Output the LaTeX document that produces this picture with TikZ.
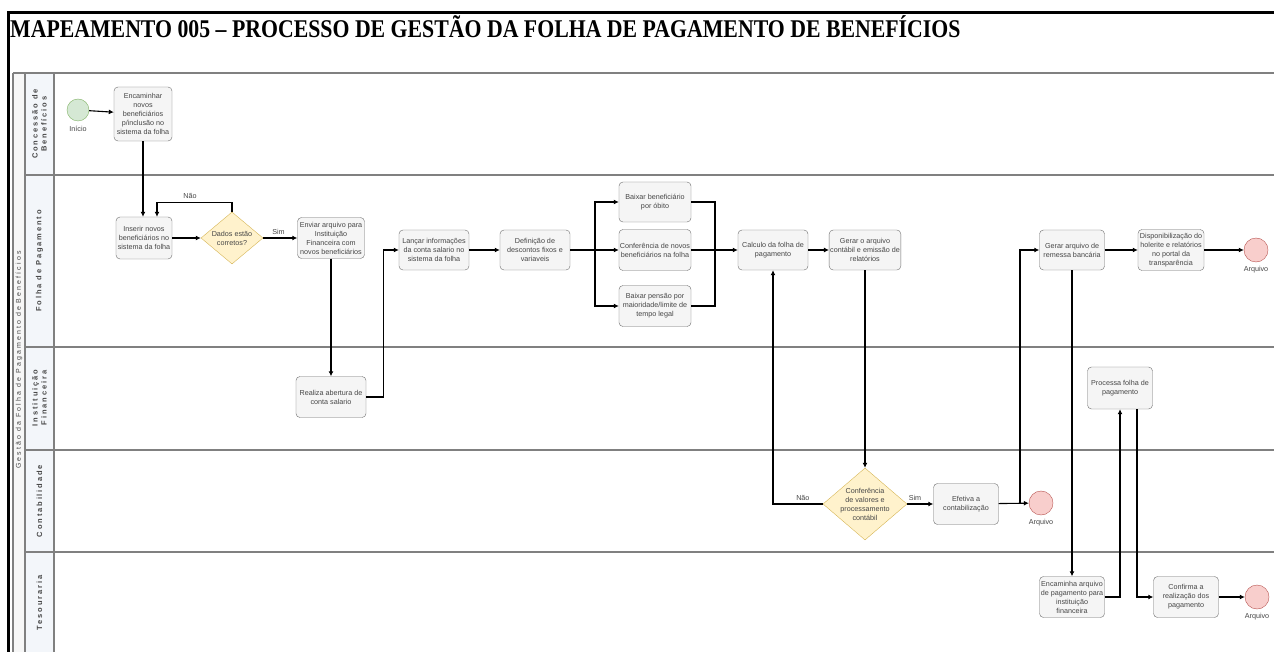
\documentclass[tikz,border=0pt]{standalone}
\usepackage{fontspec}
\setmainfont{Liberation Serif}
\setsansfont{Liberation Sans}
\newfontfamily\raiafont[LetterSpace=25]{Liberation Sans}
\newfontfamily\poolfont[LetterSpace=30]{Liberation Sans}
\usepackage{tikz}
\usetikzlibrary{arrows.meta,shapes.geometric,positioning,calc}
\definecolor{linha}{RGB}{128,128,128}
\definecolor{borda}{RGB}{110,110,110}
\definecolor{caixa}{RGB}{245,245,245}
\definecolor{raia}{RGB}{243,246,250}
\definecolor{verdefundo}{RGB}{213,232,212}
\definecolor{verdeborda}{RGB}{130,179,102}
\definecolor{rosafundo}{RGB}{248,206,204}
\definecolor{rosaborda}{RGB}{184,84,80}
\definecolor{amarelofundo}{RGB}{255,242,204}
\definecolor{amareloborda}{RGB}{214,182,86}
\definecolor{texto}{RGB}{70,70,70}
\tikzset{
  tarefa/.style={rectangle, rounded corners=4pt, draw=borda, fill=caixa, text=texto,
    font=\sffamily\fontsize{7.2}{9}\selectfont, align=center, inner sep=1pt,
    minimum width=70pt, minimum height=41pt},
  decisao/.style={diamond, draw=amareloborda, fill=amarelofundo, inner sep=0pt},
  inicio/.style={circle, draw=verdeborda, fill=verdefundo, minimum size=22pt, inner sep=0pt},
  fim/.style={circle, draw=rosaborda, fill=rosafundo, minimum size=24pt, inner sep=0pt},
  rotulo/.style={font=\sffamily\fontsize{7.2}{9}\selectfont, text=texto, align=center},
  raiatxt/.style={rotate=90, font=\raiafont\bfseries\fontsize{7.5}{9}\selectfont, text=texto, align=center},
  seta/.style={line width=1.1pt, -{Latex[length=5pt,width=5pt]}},
  fio/.style={line width=1.1pt},
  divisa/.style={draw=linha, line width=1.3pt}
}
\begin{document}
\begin{tikzpicture}[x=1pt,y=-1pt]
  \useasboundingbox (0,0) rectangle (1274,652);
  \fill[white] (0,0) rectangle (1274,652);
  \fill[raia] (25,73) rectangle (54,652);
  \fill[gray!6] (13,73) rectangle (25,652);
  \draw[divisa] (13,73) -- (1274,73);
  \draw[divisa] (13,73) -- (13,652);
  \draw[divisa] (25,73) -- (25,652);
  \draw[divisa] (54,73) -- (54,652);
  \foreach \y in {175,347,450,552} {
    \draw[divisa] (25,\y) -- (1274,\y);
  }
  \draw[line width=3pt] (1274,13) -- (8,13) -- (8,652);

  \node[anchor=base west, inner sep=0pt] (titulo) at (10,38)
    {\scalebox{0.855}[1]{\fontsize{25.5}{25}\selectfont\bfseries MAPEAMENTO 005 – PROCESSO DE GESTÃO DA FOLHA DE PAGAMENTO DE BENEFÍCIOS}};

  \node[rotate=90, font=\poolfont\fontsize{7}{8}\selectfont, text=texto] (pool) at (19,360) {Gestão da Folha de Pagamento de Benefícios};
  \node[raiatxt] (lnConc) at (39.5,124) {Concessão de\\Benefícios};
  \node[raiatxt] (lnFolha) at (39.5,261) {Folha de Pagamento};
  \node[raiatxt] (lnInst) at (39.5,398) {Instituição\\Financeira};
  \node[raiatxt] (lnCont) at (39.5,501) {Contabilidade};
  \node[raiatxt] (lnTes) at (39.5,603) {Tesouraria};

  \node[inicio] (inicio) at (78,110) {};
  \node[rotulo, below=1pt of inicio] (inicioTxt) {Início};
  \node[tarefa, minimum width=58pt, minimum height=54pt] (encam) at (143,114)
    {Encaminhar\\novos\\beneficiários\\p/inclusão no\\sistema da folha};
  \node[tarefa, minimum width=56pt, minimum height=42pt] (inserir) at (144,238)
    {Inserir novos\\beneficiários no\\sistema da folha};
  \node[decisao, minimum width=62pt, minimum height=52pt,
    label={[rotulo]center:Dados estão\\corretos?}] (dados) at (232,238) {};
  \node[tarefa, minimum width=67pt] (enviar) at (331,238)
    {Enviar arquivo para\\Instituição\\Financeira com\\novos beneficiários};
  \node[tarefa] (realiza) at (331,397) {Realiza abertura de\\conta salario};
  \node[tarefa, minimum height=40pt] (lancar) at (434,250)
    {Lançar informações\\da conta salario no\\sistema da folha};
  \node[tarefa, minimum height=40pt] (definicao) at (535,250)
    {Definição de\\descontos fixos e\\variaveis};
  \node[tarefa, minimum width=72pt, minimum height=40pt] (obito) at (655,202)
    {Baixar beneficiário\\por óbito};
  \node[tarefa, minimum width=72pt] (confnovos) at (655,250)
    {Conferência de novos\\beneficiários na folha};
  \node[tarefa, minimum width=72pt] (pensao) at (655,306)
    {Baixar pensão por\\maioridade/limite de\\tempo legal};
  \node[tarefa, minimum height=40pt] (calculo) at (773,250)
    {Calculo da folha de\\pagamento};
  \node[tarefa, minimum height=40pt] (gerar) at (865,250)
    {Gerar o arquivo\\contábil e emissão de\\relatórios};
  \node[decisao, minimum width=84pt, minimum height=72pt,
    label={[rotulo]center:Conferência\\de valores e\\processamento\\contábil}] (conf) at (865,504) {};
  \node[tarefa, minimum width=65pt] (efetiva) at (966,504) {Efetiva a\\contabilização};
  \node[fim] (arq1) at (1041,503) {};
  \node[rotulo, below=1pt of arq1] (arq1Txt) {Arquivo};
  \node[tarefa, minimum width=65pt, minimum height=40pt] (remessa) at (1072,250)
    {Gerar arquivo de\\remessa bancária};
  \node[tarefa, minimum width=66pt] (disp) at (1171,250)
    {Disponibilização do\\holerite e relatórios\\no portal da\\transparência};
  \node[fim] (arq2) at (1256,250) {};
  \node[rotulo, below=1pt of arq2] (arq2Txt) {Arquivo};
  \node[tarefa, minimum width=65pt, minimum height=42pt] (processa) at (1120,388)
    {Processa folha de\\pagamento};
  \node[tarefa, minimum width=65pt] (encaminha) at (1072,597)
    {Encaminha arquivo\\de pagamento para\\instituição\\financeira};
  \node[tarefa, minimum width=65pt] (confirma) at (1186,597)
    {Confirma a\\realização dos\\pagamento};
  \node[fim] (arq3) at (1257,597) {};
  \node[rotulo, below=1pt of arq3] (arq3Txt) {Arquivo};

  \coordinate (divisao) at (595,250);
  \coordinate (juncao) at (715,250);
  \coordinate (ramo) at (1020,503);

  \draw[seta] (inicio) -- (encam);
  \draw[seta] (encam.south) -- (encam.south |- inserir.north);
  \draw[seta] (dados.north) -- ++(0,-9) -| node[rotulo, pos=0.28, above] {Não} ([xshift=13pt]inserir.north);
  \draw[seta] (inserir) -- (dados);
  \draw[seta] (dados) -- node[rotulo, above, pos=0.45] {Sim} (enviar);
  \draw[seta] (enviar) -- (realiza);
  \draw[seta] (realiza.east) -- ++(17,0) |- (lancar.west);
  \draw[seta] (lancar) -- (definicao);
  \draw[fio] (definicao) -- (divisao);
  \draw[seta] (divisao) |- (obito.west);
  \draw[seta] (divisao) |- (pensao.west);
  \draw[seta] (divisao) -- (confnovos);
  \draw[fio] (obito.east) -| (juncao);
  \draw[fio] (pensao.east) -| (juncao);
  \draw[seta] (confnovos) -- (calculo);
  \draw[seta] (calculo) -- (gerar);
  \draw[seta] (gerar) -- (conf.north);
  \draw[seta] (conf.west) -| node[rotulo, pos=0.2, above] {Não} (calculo.south);
  \draw[seta] (conf.east) -- node[rotulo, pos=0.3, above] {Sim} (efetiva);
  \draw[seta] (efetiva) -- (arq1);
  \draw[seta] (ramo) |- (remessa.west);
  \draw[seta] (remessa) -- (disp);
  \draw[seta] (disp) -- (arq2);
  \draw[seta] (remessa) -- (encaminha);
  \draw[seta] (encaminha.east) -| (processa.south);
  \draw[seta] ([xshift=17pt]processa.south) |- (confirma.west);
  \draw[seta] (confirma) -- (arq3);
\end{tikzpicture}
\end{document}
